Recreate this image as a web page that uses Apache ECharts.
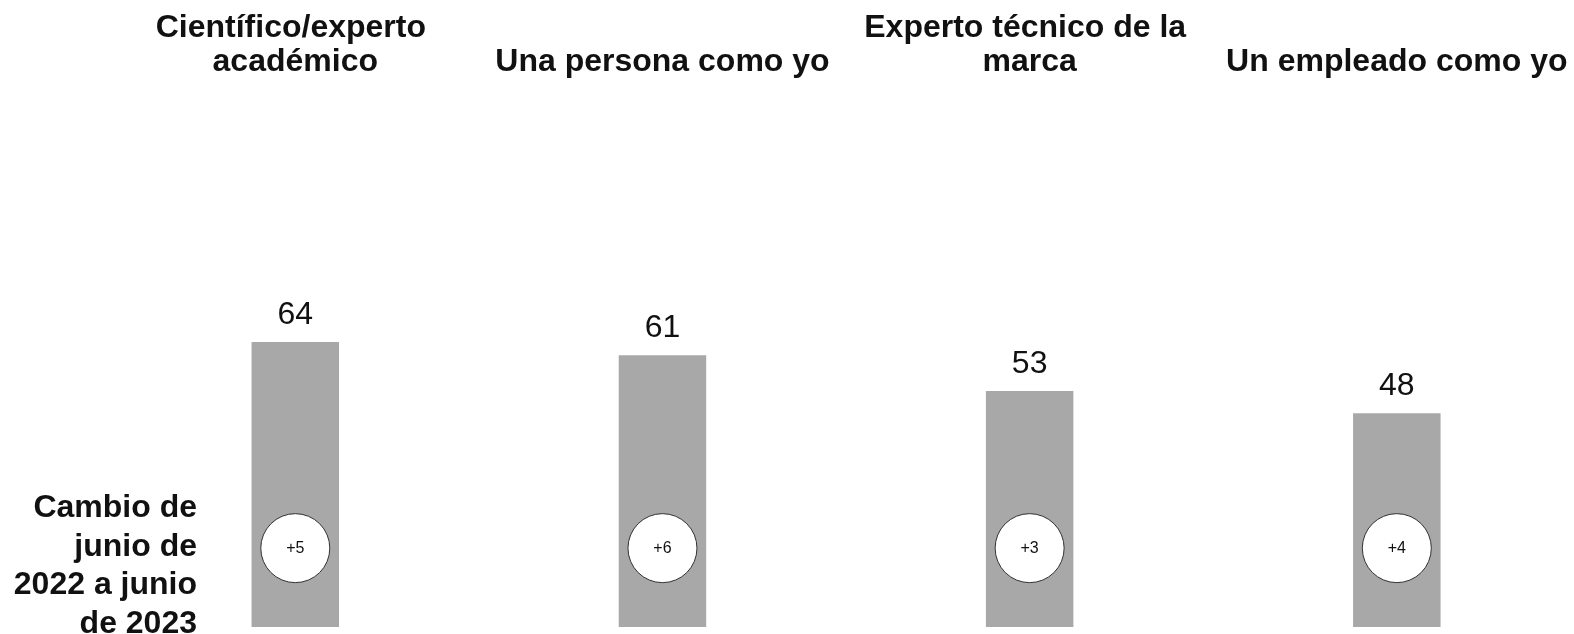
<!DOCTYPE html>
<html>
<head>
<meta charset="utf-8">
<script src="https://cdn.jsdelivr.net/npm/echarts@6/dist/echarts.min.js"></script>
<style>
  html, body { margin: 0; padding: 0; background: #ffffff; overflow: hidden; }
  /* the plot runs slightly past the right edge of the view, so the canvas is a bit wider */
  #chart { width: 1600px; height: 634px; }
</style>
</head>
<body>
<div id="chart"></div>
<script>
// Trust in each spokesperson type (%), and change vs. the previous year
const categories = [
  'Científico/experto académico',
  'Una persona como yo',
  'Experto técnico de la marca',
  'Un empleado como yo'
];
const trustValues = [64, 61, 53, 48];
const changeValues = [5, 6, 3, 4];
const sideNote = 'Cambio de\njunio de\n2022 a junio\nde 2023';

const FONT = '"Liberation Sans", Arial, Helvetica, sans-serif';
const CIRCLE_LEVEL = 17.7; // vertical level of the change badges, in axis units

const chart = echarts.init(document.getElementById('chart'), null, { renderer: 'canvas' });

chart.setOption({
  backgroundColor: '#ffffff',
  animation: false,
  grid: { left: 111.7, width: 1468.7, top: 181.5, height: 445.5 },
  xAxis: {
    type: 'category',
    data: categories,
    position: 'top',
    axisLine: { show: false },
    axisTick: { show: false },
    splitLine: { show: false },
    axisLabel: {
      interval: 0,
      margin: 102,
      width: 362,
      overflow: 'break',
      fontFamily: FONT,
      fontSize: 32,
      fontWeight: 'bold',
      lineHeight: 34,
      color: '#111111',
      align: 'center'
    }
  },
  yAxis: {
    type: 'value',
    min: 0,
    max: 100,
    show: false
  },
  series: [
    {
      type: 'bar',
      data: trustValues,
      barWidth: 87.5,
      itemStyle: { color: '#a8a8a8' },
      label: {
        show: true,
        position: 'top',
        distance: 11,
        fontFamily: FONT,
        fontSize: 32,
        color: '#111111'
      },
      z: 2
    },
    {
      type: 'scatter',
      data: categories.map((c) => [c, CIRCLE_LEVEL]),
      symbol: 'circle',
      symbolSize: 69,
      itemStyle: { color: '#ffffff', opacity: 1, borderColor: '#333333', borderWidth: 1 },
      emphasis: { disabled: true },
      label: {
        show: true,
        position: 'inside',
        formatter: p => '+' + changeValues[p.dataIndex],
        fontFamily: FONT,
        fontSize: 16,
        color: '#111111'
      },
      z: 3
    }
  ],
  graphic: [
    {
      type: 'text',
      x: 197,
      y: 489,
      style: {
        text: sideNote,
        fontFamily: FONT,
        fontSize: 32,
        fontWeight: 'bold',
        lineHeight: 38.5,
        fill: '#111111',
        align: 'right',
        verticalAlign: 'top'
      }
    }
  ]
});
</script>
</body>
</html>
